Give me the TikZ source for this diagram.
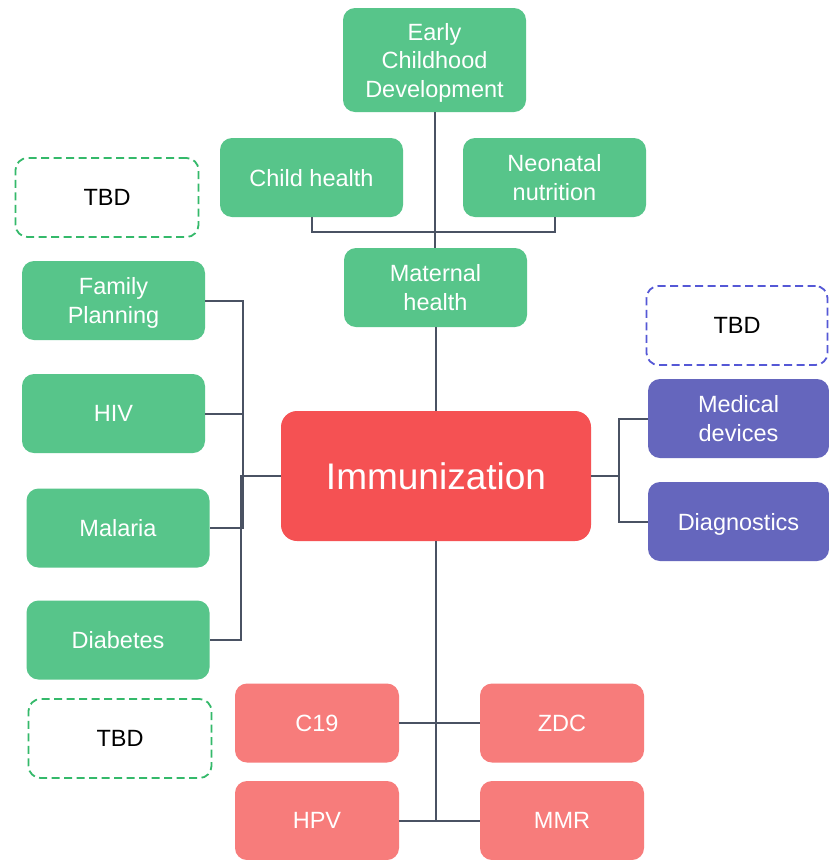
\documentclass[tikz,border=0pt]{standalone}
\usepackage{fontspec}
\setmainfont{Liberation Sans}
\usetikzlibrary{positioning}

\definecolor{topicgreen}{RGB}{87,197,138}
\definecolor{corered}{RGB}{245,81,83}
\definecolor{vaccinered}{RGB}{247,124,123}
\definecolor{techpurple}{RGB}{101,102,189}
\definecolor{linkgray}{RGB}{74,82,99}
\definecolor{dashgreen}{RGB}{52,185,106}
\definecolor{dashblue}{RGB}{85,88,214}

\tikzset{
  box/.style={rectangle, rounded corners=12pt, text=white, align=center,
    minimum width=183pt, minimum height=79pt, inner sep=2pt, text depth=0pt,
    font=\fontsize{23.5}{28.5}\selectfont},
  gbox/.style={box, fill=topicgreen},
  pbox/.style={box, fill=techpurple},
  vbox/.style={box, fill=vaccinered, minimum width=164pt},
  corebox/.style={box, fill=corered, rounded corners=16pt,
    minimum width=310pt, minimum height=130pt,
    font=\fontsize{37}{44}\selectfont},
  tbdbox/.style={box, fill=white, text=black, line width=1.8pt,
    dash pattern=on 8pt off 4.5pt},
  link/.style={draw=linkgray, line width=2pt},
}

\begin{document}
\begin{tikzpicture}[x=1pt,y=-1pt]
  \useasboundingbox[fill=white] (0,0) rectangle (829,860);

  % central topic
  \node[corebox] (imm) at (436,476) {Immunization};

  % upper branch
  \node[gbox] (ecd) at (434.5,60) [minimum height=104pt] {Early\\Childhood\\Development};
  \node[gbox] (ch)  at (311.5,177.5) {Child health};
  \node[gbox] (nn)  at (554.5,177.5) {Neonatal\\nutrition};
  \node[gbox] (mh)  at (435.5,287.5) {Maternal\\health};

  % left branch
  \node[tbdbox, draw=dashgreen] (tbdA) at (107,197.5) {TBD};
  \node[gbox] (fp)  at (113.5,300.5) {Family\\Planning};
  \node[gbox] (hiv) at (113.5,413.5) {HIV};
  \node[gbox] (mal) at (118,528) {Malaria};
  \node[gbox] (dia) at (118,640) {Diabetes};
  \node[tbdbox, draw=dashgreen] (tbdB) at (120,738.5) {TBD};

  % right branch
  \node[tbdbox, draw=dashblue] (tbdC) at (737,325.5) [minimum width=181pt] {TBD};
  \node[pbox] (md) at (738.5,418.5) [minimum width=181pt] {Medical\\devices};
  \node[pbox] (dg) at (738.5,521.5) [minimum width=181pt] {Diagnostics};

  % vaccines
  \node[vbox] (c19) at (317,723) {C19};
  \node[vbox] (zdc) at (562,723) {ZDC};
  \node[vbox] (hpv) at (317,820.5) {HPV};
  \node[vbox] (mmr) at (562,820.5) {MMR};

  % junction points
  \coordinate (topbar) at (435,232);
  \coordinate (ljA) at (243,476);
  \coordinate (ljB) at (241,476);
  \coordinate (rj)  at (619,476);
  \coordinate (bj)  at (436,820.5);

  % upper links
  \draw[link] (ecd.south) -- (ecd.south |- mh.north);
  \draw[link] (ch.south) |- (topbar) -| (nn.south);
  \draw[link] (mh.south) -- (mh.south |- imm.north);

  % left links
  \draw[link] (imm.west) -- (ljA) |- (fp.east);
  \draw[link] (ljA) |- (hiv.east);
  \draw[link] (ljA) |- (mal.east);
  \draw[link] (imm.west) -- (ljB) |- (dia.east);

  % right links
  \draw[link] (imm.east) -- (rj) |- (md.west);
  \draw[link] (rj) |- (dg.west);

  % vaccine links
  \draw[link] (imm.south) -- (bj);
  \draw[link] (c19.east) -- (zdc.west);
  \draw[link] (hpv.east) -- (mmr.west);
\end{tikzpicture}
\end{document}
